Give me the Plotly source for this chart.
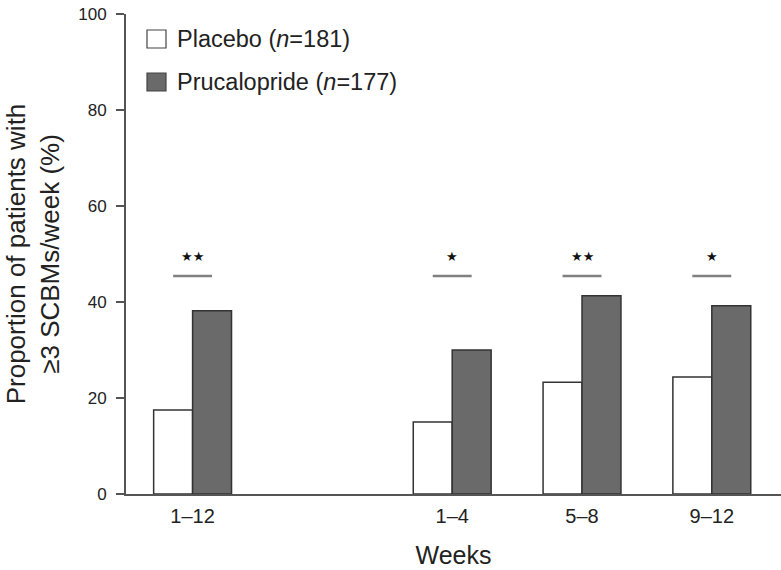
import plotly.graph_objects as go

categories = ["1–12", "1–4", "5–8", "9–12"]
x_pos = [0, 2, 3, 4]
placebo = [17.5, 15.0, 23.3, 24.4]
prucalopride = [38.2, 30.0, 41.3, 39.2]
significance = ["★★", "★", "★★", "★"]
sig_level = 45.4
series_names = ["Placebo (<i>n</i>=181)", "Prucalopride (<i>n</i>=177)"]
series_colors = ["white", "#6a6a6a"]

fig = go.Figure()
for name, vals, col, off in zip(series_names, [placebo, prucalopride], series_colors, [-0.3, 0]):
    fig.add_trace(go.Bar(
        x=x_pos, y=vals, name=name, width=0.3, offset=off,
        marker=dict(color=col, line=dict(color="#333333", width=1.5)),
        showlegend=False,
    ))

for xp, s in zip(x_pos, significance):
    fig.add_shape(type="line", x0=xp - 0.15, x1=xp + 0.15, y0=sig_level, y1=sig_level,
                  xref="x", yref="y", line=dict(color="#808080", width=2.5))
    fig.add_annotation(x=xp, y=sig_level, text=s, showarrow=False, yshift=20,
                       font=dict(size=13, color="#111111", family="DejaVu Sans"))

# body margin is removed by post_script, so figure coordinates = screen coordinates
L, T, W, H = 126, 14, 655, 480
FW, FH = 781, 570
def px(xs): return (xs - L) / W
def py(ys): return (T + H - ys) / H
for i, (name, col) in enumerate(zip(series_names, series_colors)):
    cy = 39 + i * 43
    fig.add_shape(type="rect", xref="paper", yref="paper",
                  x0=px(147), x1=px(166), y0=py(cy + 9), y1=py(cy - 9),
                  fillcolor=col, line=dict(color="#444444", width=1.2))
    fig.add_annotation(xref="paper", yref="paper", x=px(175), y=py(cy),
                       xanchor="left", yanchor="middle", text=name, showarrow=False,
                       font=dict(size=23.5, color="#222222"))

fig.update_layout(
    width=FW, height=FH,
    margin=dict(l=L, r=FW - L - W, t=T, b=FH - T - H),
    paper_bgcolor="white", plot_bgcolor="white",
    font=dict(family="Liberation Sans, Arial, sans-serif", color="#222222"),
    showlegend=False,
    xaxis=dict(range=[-0.513, 4.533], tickmode="array", tickvals=x_pos, ticktext=categories,
               showline=True, linecolor="#555555", linewidth=1.8, ticks="", showgrid=False,
               zeroline=False, tickfont=dict(size=20), automargin=False, ticklabelstandoff=3,
               title=dict(text="Weeks", font=dict(size=25), standoff=21)),
    yaxis=dict(range=[0, 100], tickvals=[0, 20, 40, 60, 80, 100],
               showline=True, linecolor="#555555", linewidth=1.8, ticks="outside",
               ticklen=8, tickcolor="#555555", tickwidth=1.8, showgrid=False, zeroline=False,
               tickfont=dict(size=17), automargin=False, ticklabelstandoff=6,
               ticklabeloverflow="allow",
               title=dict(text="Proportion of patients with<br>≥3 SCBMs/week (%)",
                          font=dict(size=26), standoff=11)),
)

fig.write_html("out.html", config={"displayModeBar": False},
               post_script="document.body.style.margin='0';document.body.style.overflow='hidden';")
